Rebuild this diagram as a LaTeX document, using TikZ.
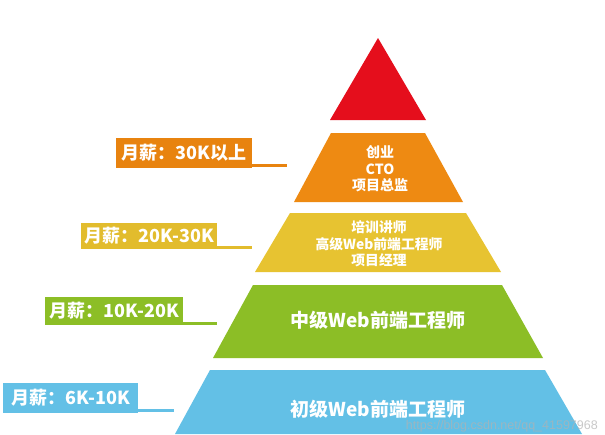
\documentclass[tikz,border=0pt]{standalone}
\usepackage{fontspec}
\newfontfamily\cjk{Noto Sans CJK SC}
\newfontfamily\wmfont{Liberation Sans}
\definecolor{cred}{HTML}{E50E1C}
\definecolor{corange}{HTML}{EE8A12}
\definecolor{corangeL}{HTML}{E8830F}
\definecolor{cyellow}{HTML}{E7C331}
\definecolor{cyellowL}{HTML}{E2BC2D}
\definecolor{cgreen}{HTML}{8CBE26}
\definecolor{cblue}{HTML}{63C0E6}
\begin{document}
\begin{tikzpicture}[x=1pt,y=-1pt,
  tiertext/.style={text=white,font=\cjk\bfseries\fontsize{#1}{16.5}\selectfont,align=center,inner sep=0pt},
  labelbox/.style={fill=#1,text=white,font=\cjk\bfseries\fontsize{18}{18}\selectfont,inner sep=0pt,minimum width=136pt,minimum height=28pt,anchor=north west},
  labelline/.style={draw=#1,line width=3pt}]
\useasboundingbox (0,0) rectangle (605,434);
\fill[white] (0,0) rectangle (605,434);
% pyramid tiers
\fill[cred] (378,38) -- (426,120) -- (330,120) -- cycle;
\fill[corange] (331,133) -- (425,133) -- (463,202) -- (294,202) -- cycle;
\fill[cyellow] (290,213) -- (466,213) -- (501,272) -- (255,272) -- cycle;
\fill[cgreen] (253,285) -- (502,285) -- (543,358) -- (213,358) -- cycle;
\fill[cblue] (210,370) -- (545,370) -- (582,434) -- (175,434) -- cycle;
% tier texts
\node[tiertext=14] (t1) at (380,169) {创业\\CTO\\项目总监};
\node[tiertext=13.8] (t2) at (379,244) {培训讲师\\高级Web前端工程师\\项目经理};
\node[tiertext=19] (t3) at (378,320) {中级Web前端工程师};
\node[tiertext=19] (t4) at (378,409) {初级Web前端工程师};
% watermark
\node[anchor=east,text=gray!60,opacity=0.7,font=\wmfont\fontsize{12.5}{12.5}\selectfont,inner sep=0pt] (wm) at (598,426) {https://blog.csdn.net/qq\_41597968};
% salary labels
\node[labelbox=corangeL,minimum height=30pt] (l1) at (116,138) {月薪：30K以上};
\coordinate (e1) at (287,165);
\draw[labelline=corangeL] (l1.south east |- e1) -- (e1);
\node[labelbox=cyellowL,minimum height=26pt] (l2) at (81,223) {月薪：20K-30K};
\coordinate (e2) at (252,247);
\draw[labelline=cyellowL] (l2.south east |- e2) -- (e2);
\node[labelbox=cgreen,minimum width=138pt] (l3) at (45,297) {月薪：10K-20K};
\coordinate (e3) at (217,323);
\draw[labelline=cgreen] (l3.south east |- e3) -- (e3);
\node[labelbox=cblue,minimum width=135pt,minimum height=30pt] (l4) at (3,383) {月薪：6K-10K};
\coordinate (e4) at (174,410);
\draw[labelline=cblue] (l4.south east |- e4) -- (e4);
\end{tikzpicture}
\end{document}
